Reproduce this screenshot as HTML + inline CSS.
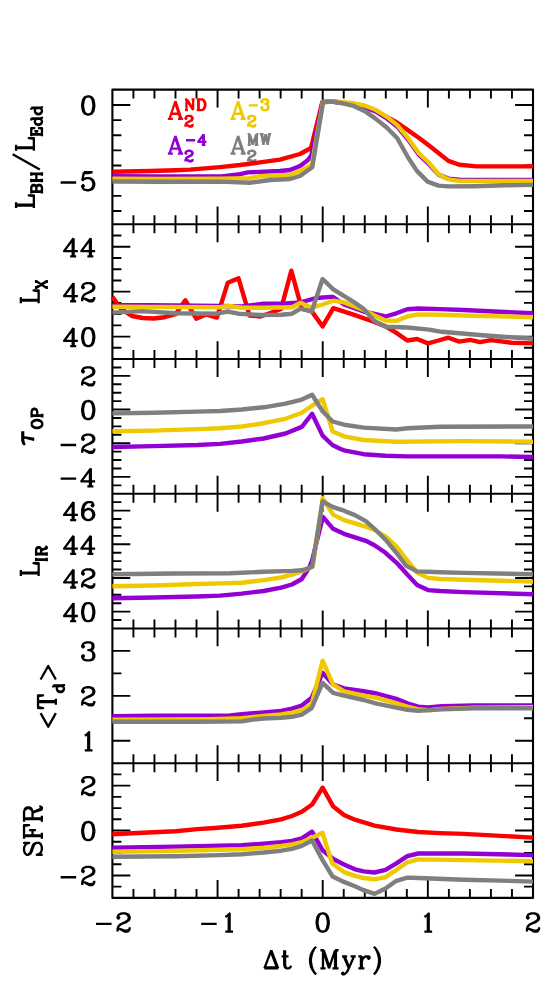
<!DOCTYPE html>
<html><head><meta charset="utf-8"><title>Light curves</title>
<style>
html,body{margin:0;padding:0;background:#fff;}
body{width:550px;height:1008px;overflow:hidden;font-family:"Liberation Serif",serif;}
svg{display:block;}
.ax{stroke:#000;stroke-width:2.1;fill:none;stroke-linecap:butt;stroke-linejoin:round;}
.tk{stroke:#000;stroke-width:1.9;fill:none;}
.cv{fill:none;stroke-width:4.4;stroke-linejoin:round;stroke-linecap:butt;}
</style></head><body>
<svg width="550" height="1008" viewBox="0 0 550 1008">
<title>Time evolution around the burst: six stacked panels versus Δt (Myr)</title>
<desc>Panels from top to bottom: L_BH/L_Edd, L_X, τ_OP, L_IR, &lt;T_d&gt;, SFR. X axis Δt (Myr) from -2 to 2. Legend: A2 ND (red), A2 -3 (gold), A2 -4 (purple), A2 MW (gray).</desc>
<rect x="0" y="0" width="550" height="1008" fill="#fff"/>
<path class="tk" d="M133.43 89.60L133.43 98.60M154.46 89.60L154.46 98.60M175.49 89.60L175.49 98.60M196.52 89.60L196.52 98.60M217.55 89.60L217.55 107.50M238.58 89.60L238.58 98.60M259.61 89.60L259.61 98.60M280.64 89.60L280.64 98.60M301.67 89.60L301.67 98.60M322.70 89.60L322.70 107.50M343.73 89.60L343.73 98.60M364.76 89.60L364.76 98.60M385.79 89.60L385.79 98.60M406.82 89.60L406.82 98.60M427.85 89.60L427.85 107.50M448.88 89.60L448.88 98.60M469.91 89.60L469.91 98.60M490.94 89.60L490.94 98.60M511.97 89.60L511.97 98.60M133.43 215.32L133.43 233.32M154.46 215.32L154.46 233.32M175.49 215.32L175.49 233.32M196.52 215.32L196.52 233.32M217.55 206.42L217.55 242.22M238.58 215.32L238.58 233.32M259.61 215.32L259.61 233.32M280.64 215.32L280.64 233.32M301.67 215.32L301.67 233.32M322.70 206.42L322.70 242.22M343.73 215.32L343.73 233.32M364.76 215.32L364.76 233.32M385.79 215.32L385.79 233.32M406.82 215.32L406.82 233.32M427.85 206.42L427.85 242.22M448.88 215.32L448.88 233.32M469.91 215.32L469.91 233.32M490.94 215.32L490.94 233.32M511.97 215.32L511.97 233.32M133.43 350.03L133.43 368.03M154.46 350.03L154.46 368.03M175.49 350.03L175.49 368.03M196.52 350.03L196.52 368.03M217.55 341.13L217.55 376.93M238.58 350.03L238.58 368.03M259.61 350.03L259.61 368.03M280.64 350.03L280.64 368.03M301.67 350.03L301.67 368.03M322.70 341.13L322.70 376.93M343.73 350.03L343.73 368.03M364.76 350.03L364.76 368.03M385.79 350.03L385.79 368.03M406.82 350.03L406.82 368.03M427.85 341.13L427.85 376.93M448.88 350.03L448.88 368.03M469.91 350.03L469.91 368.03M490.94 350.03L490.94 368.03M511.97 350.03L511.97 368.03M133.43 484.75L133.43 502.75M154.46 484.75L154.46 502.75M175.49 484.75L175.49 502.75M196.52 484.75L196.52 502.75M217.55 475.85L217.55 511.65M238.58 484.75L238.58 502.75M259.61 484.75L259.61 502.75M280.64 484.75L280.64 502.75M301.67 484.75L301.67 502.75M322.70 475.85L322.70 511.65M343.73 484.75L343.73 502.75M364.76 484.75L364.76 502.75M385.79 484.75L385.79 502.75M406.82 484.75L406.82 502.75M427.85 475.85L427.85 511.65M448.88 484.75L448.88 502.75M469.91 484.75L469.91 502.75M490.94 484.75L490.94 502.75M511.97 484.75L511.97 502.75M133.43 619.47L133.43 637.47M154.46 619.47L154.46 637.47M175.49 619.47L175.49 637.47M196.52 619.47L196.52 637.47M217.55 610.57L217.55 646.37M238.58 619.47L238.58 637.47M259.61 619.47L259.61 637.47M280.64 619.47L280.64 637.47M301.67 619.47L301.67 637.47M322.70 610.57L322.70 646.37M343.73 619.47L343.73 637.47M364.76 619.47L364.76 637.47M385.79 619.47L385.79 637.47M406.82 619.47L406.82 637.47M427.85 610.57L427.85 646.37M448.88 619.47L448.88 637.47M469.91 619.47L469.91 637.47M490.94 619.47L490.94 637.47M511.97 619.47L511.97 637.47M133.43 754.18L133.43 772.18M154.46 754.18L154.46 772.18M175.49 754.18L175.49 772.18M196.52 754.18L196.52 772.18M217.55 745.28L217.55 781.08M238.58 754.18L238.58 772.18M259.61 754.18L259.61 772.18M280.64 754.18L280.64 772.18M301.67 754.18L301.67 772.18M322.70 745.28L322.70 781.08M343.73 754.18L343.73 772.18M364.76 754.18L364.76 772.18M385.79 754.18L385.79 772.18M406.82 754.18L406.82 772.18M427.85 745.28L427.85 781.08M448.88 754.18L448.88 772.18M469.91 754.18L469.91 772.18M490.94 754.18L490.94 772.18M511.97 754.18L511.97 772.18M133.43 888.90L133.43 897.90M154.46 888.90L154.46 897.90M175.49 888.90L175.49 897.90M196.52 888.90L196.52 897.90M217.55 880.00L217.55 897.90M238.58 888.90L238.58 897.90M259.61 888.90L259.61 897.90M280.64 888.90L280.64 897.90M301.67 888.90L301.67 897.90M322.70 880.00L322.70 897.90M343.73 888.90L343.73 897.90M364.76 888.90L364.76 897.90M385.79 888.90L385.79 897.90M406.82 888.90L406.82 897.90M427.85 880.00L427.85 897.90M448.88 888.90L448.88 897.90M469.91 888.90L469.91 897.90M490.94 888.90L490.94 897.90M511.97 888.90L511.97 897.90M112.40 211.00L121.40 211.00M533.00 211.00L524.00 211.00M112.40 195.85L121.40 195.85M533.00 195.85L524.00 195.85M112.40 180.70L130.30 180.70M533.00 180.70L515.10 180.70M112.40 165.55L121.40 165.55M533.00 165.55L524.00 165.55M112.40 150.40L121.40 150.40M533.00 150.40L524.00 150.40M112.40 135.25L121.40 135.25M533.00 135.25L524.00 135.25M112.40 120.10L121.40 120.10M533.00 120.10L524.00 120.10M112.40 104.95L130.30 104.95M533.00 104.95L515.10 104.95M112.40 347.81L121.40 347.81M533.00 347.81L524.00 347.81M112.40 336.58L130.30 336.58M533.00 336.58L515.10 336.58M112.40 325.35L121.40 325.35M533.00 325.35L524.00 325.35M112.40 314.13L121.40 314.13M533.00 314.13L524.00 314.13M112.40 302.90L121.40 302.90M533.00 302.90L524.00 302.90M112.40 291.67L130.30 291.67M533.00 291.67L515.10 291.67M112.40 280.45L121.40 280.45M533.00 280.45L524.00 280.45M112.40 269.22L121.40 269.22M533.00 269.22L524.00 269.22M112.40 258.00L121.40 258.00M533.00 258.00L524.00 258.00M112.40 246.77L130.30 246.77M533.00 246.77L515.10 246.77M112.40 235.54L121.40 235.54M533.00 235.54L524.00 235.54M112.40 485.33L121.40 485.33M533.00 485.33L524.00 485.33M112.40 476.91L130.30 476.91M533.00 476.91L515.10 476.91M112.40 468.49L121.40 468.49M533.00 468.49L524.00 468.49M112.40 460.07L121.40 460.07M533.00 460.07L524.00 460.07M112.40 451.65L121.40 451.65M533.00 451.65L524.00 451.65M112.40 443.23L130.30 443.23M533.00 443.23L515.10 443.23M112.40 434.81L121.40 434.81M533.00 434.81L524.00 434.81M112.40 426.39L121.40 426.39M533.00 426.39L524.00 426.39M112.40 417.97L121.40 417.97M533.00 417.97L524.00 417.97M112.40 409.55L130.30 409.55M533.00 409.55L515.10 409.55M112.40 401.13L121.40 401.13M533.00 401.13L524.00 401.13M112.40 392.71L121.40 392.71M533.00 392.71L524.00 392.71M112.40 384.29L121.40 384.29M533.00 384.29L524.00 384.29M112.40 375.87L130.30 375.87M533.00 375.87L515.10 375.87M112.40 367.45L121.40 367.45M533.00 367.45L524.00 367.45M112.40 620.05L121.40 620.05M533.00 620.05L524.00 620.05M112.40 611.63L130.30 611.63M533.00 611.63L515.10 611.63M112.40 603.21L121.40 603.21M533.00 603.21L524.00 603.21M112.40 594.79L121.40 594.79M533.00 594.79L524.00 594.79M112.40 586.37L121.40 586.37M533.00 586.37L524.00 586.37M112.40 577.95L130.30 577.95M533.00 577.95L515.10 577.95M112.40 569.53L121.40 569.53M533.00 569.53L524.00 569.53M112.40 561.11L121.40 561.11M533.00 561.11L524.00 561.11M112.40 552.69L121.40 552.69M533.00 552.69L524.00 552.69M112.40 544.27L130.30 544.27M533.00 544.27L515.10 544.27M112.40 535.85L121.40 535.85M533.00 535.85L524.00 535.85M112.40 527.43L121.40 527.43M533.00 527.43L524.00 527.43M112.40 519.01L121.40 519.01M533.00 519.01L524.00 519.01M112.40 510.59L130.30 510.59M533.00 510.59L515.10 510.59M112.40 502.17L121.40 502.17M533.00 502.17L524.00 502.17M112.40 740.73L130.30 740.73M533.00 740.73L515.10 740.73M112.40 718.28L121.40 718.28M533.00 718.28L524.00 718.28M112.40 695.83L130.30 695.83M533.00 695.83L515.10 695.83M112.40 673.37L121.40 673.37M533.00 673.37L524.00 673.37M112.40 650.92L130.30 650.92M533.00 650.92L515.10 650.92M112.40 886.67L121.40 886.67M533.00 886.67L524.00 886.67M112.40 875.45L130.30 875.45M533.00 875.45L515.10 875.45M112.40 864.22L121.40 864.22M533.00 864.22L524.00 864.22M112.40 852.99L121.40 852.99M533.00 852.99L524.00 852.99M112.40 841.77L121.40 841.77M533.00 841.77L524.00 841.77M112.40 830.54L130.30 830.54M533.00 830.54L515.10 830.54M112.40 819.32L121.40 819.32M533.00 819.32L524.00 819.32M112.40 808.09L121.40 808.09M533.00 808.09L524.00 808.09M112.40 796.86L121.40 796.86M533.00 796.86L524.00 796.86M112.40 785.64L130.30 785.64M533.00 785.64L515.10 785.64M112.40 774.41L121.40 774.41M533.00 774.41L524.00 774.41"/>
<rect class="ax" x="112.40" y="89.60" width="420.60" height="808.30"/>
<path class="ax" d="M112.40 224.32H533.00M112.40 359.03H533.00M112.40 493.75H533.00M112.40 628.47H533.00M112.40 763.18H533.00"/>
<path d="M175.45 101.00L169.50 118.85M175.45 101.00L181.40 118.85M175.45 103.55L180.55 118.85M171.20 113.75L178.85 113.75M167.80 118.85L172.90 118.85M178.00 118.85L183.10 118.85" fill="none" stroke="#fa0000" stroke-width="2.30" stroke-linecap="butt" stroke-linejoin="round"/>
<path d="M186.50 99.34L186.50 110.05M187.01 99.34L193.13 109.03M187.01 100.36L193.13 110.05M193.13 99.34L193.13 110.05M184.97 99.34L187.01 99.34M191.60 99.34L194.66 99.34M184.97 110.05L188.03 110.05M198.23 99.34L198.23 110.05M198.74 99.34L198.74 110.05M196.70 99.34L201.80 99.34L203.33 99.85L204.35 100.87L204.86 101.89L205.37 103.42L205.37 105.97L204.86 107.50L204.35 108.52L203.33 109.54L201.80 110.05L196.70 110.05M201.80 99.34L202.82 99.85L203.84 100.87L204.35 101.89L204.86 103.42L204.86 105.97L204.35 107.50L203.84 108.52L202.82 109.54L201.80 110.05" fill="none" stroke="#fa0000" stroke-width="2.30" stroke-linecap="butt" stroke-linejoin="round"/>
<path d="M185.99 117.98L186.50 118.49L185.99 119.00L185.48 118.49L185.48 117.98L185.99 116.96L186.50 116.45L188.03 115.94L190.07 115.94L191.60 116.45L192.11 116.96L192.62 117.98L192.62 119.00L192.11 120.02L190.58 121.04L188.03 122.06L187.01 122.57L185.99 123.59L185.48 125.12L185.48 126.65M190.07 115.94L191.09 116.45L191.60 116.96L192.11 117.98L192.11 119.00L191.60 120.02L190.07 121.04L188.03 122.06M185.48 125.63L185.99 125.12L187.01 125.12L189.56 126.14L191.09 126.14L192.11 125.63L192.62 125.12M187.01 125.12L189.56 126.65L191.60 126.65L192.11 126.14L192.62 125.12L192.62 124.10" fill="none" stroke="#fa0000" stroke-width="2.30" stroke-linecap="butt" stroke-linejoin="round"/>
<path d="M238.15 101.00L232.20 118.85M238.15 101.00L244.10 118.85M238.15 103.55L243.25 118.85M233.90 113.75L241.55 113.75M230.50 118.85L235.60 118.85M240.70 118.85L245.80 118.85" fill="none" stroke="#eec900" stroke-width="2.30" stroke-linecap="butt" stroke-linejoin="round"/>
<path d="M248.69 105.46L257.87 105.46M261.95 101.38L262.46 101.89L261.95 102.40L261.44 101.89L261.44 101.38L261.95 100.36L262.46 99.85L263.99 99.34L266.03 99.34L267.56 99.85L268.07 100.87L268.07 102.40L267.56 103.42L266.03 103.93L264.50 103.93M266.03 99.34L267.05 99.85L267.56 100.87L267.56 102.40L267.05 103.42L266.03 103.93M266.03 103.93L267.05 104.44L268.07 105.46L268.58 106.48L268.58 108.01L268.07 109.03L267.56 109.54L266.03 110.05L263.99 110.05L262.46 109.54L261.95 109.03L261.44 108.01L261.44 107.50L261.95 106.99L262.46 107.50L261.95 108.01M267.56 104.95L268.07 106.48L268.07 108.01L267.56 109.03L267.05 109.54L266.03 110.05" fill="none" stroke="#eec900" stroke-width="2.30" stroke-linecap="butt" stroke-linejoin="round"/>
<path d="M248.69 117.98L249.20 118.49L248.69 119.00L248.18 118.49L248.18 117.98L248.69 116.96L249.20 116.45L250.73 115.94L252.77 115.94L254.30 116.45L254.81 116.96L255.32 117.98L255.32 119.00L254.81 120.02L253.28 121.04L250.73 122.06L249.71 122.57L248.69 123.59L248.18 125.12L248.18 126.65M252.77 115.94L253.79 116.45L254.30 116.96L254.81 117.98L254.81 119.00L254.30 120.02L252.77 121.04L250.73 122.06M248.18 125.63L248.69 125.12L249.71 125.12L252.26 126.14L253.79 126.14L254.81 125.63L255.32 125.12M249.71 125.12L252.26 126.65L254.30 126.65L254.81 126.14L255.32 125.12L255.32 124.10" fill="none" stroke="#eec900" stroke-width="2.30" stroke-linecap="butt" stroke-linejoin="round"/>
<path d="M175.45 135.80L169.50 153.65M175.45 135.80L181.40 153.65M175.45 138.35L180.55 153.65M171.20 148.55L178.85 148.55M167.80 153.65L172.90 153.65M178.00 153.65L183.10 153.65" fill="none" stroke="#9400d3" stroke-width="2.30" stroke-linecap="butt" stroke-linejoin="round"/>
<path d="M185.99 140.26L195.17 140.26M203.33 135.16L203.33 144.85M203.84 134.14L203.84 144.85M203.84 134.14L198.23 141.79L206.39 141.79M201.80 144.85L205.37 144.85" fill="none" stroke="#9400d3" stroke-width="2.30" stroke-linecap="butt" stroke-linejoin="round"/>
<path d="M185.99 152.78L186.50 153.29L185.99 153.80L185.48 153.29L185.48 152.78L185.99 151.76L186.50 151.25L188.03 150.74L190.07 150.74L191.60 151.25L192.11 151.76L192.62 152.78L192.62 153.80L192.11 154.82L190.58 155.84L188.03 156.86L187.01 157.37L185.99 158.39L185.48 159.92L185.48 161.45M190.07 150.74L191.09 151.25L191.60 151.76L192.11 152.78L192.11 153.80L191.60 154.82L190.07 155.84L188.03 156.86M185.48 160.43L185.99 159.92L187.01 159.92L189.56 160.94L191.09 160.94L192.11 160.43L192.62 159.92M187.01 159.92L189.56 161.45L191.60 161.45L192.11 160.94L192.62 159.92L192.62 158.90" fill="none" stroke="#9400d3" stroke-width="2.30" stroke-linecap="butt" stroke-linejoin="round"/>
<path d="M238.15 135.80L232.20 153.65M238.15 135.80L244.10 153.65M238.15 138.35L243.25 153.65M233.90 148.55L241.55 148.55M230.50 153.65L235.60 153.65M240.70 153.65L245.80 153.65" fill="none" stroke="#7f7f7f" stroke-width="2.30" stroke-linecap="butt" stroke-linejoin="round"/>
<path d="M249.20 134.14L249.20 144.85M249.71 134.14L252.77 143.32M249.20 134.14L252.77 144.85M256.34 134.14L252.77 144.85M256.34 134.14L256.34 144.85M256.85 134.14L256.85 144.85M247.67 134.14L249.71 134.14M256.34 134.14L258.38 134.14M247.67 144.85L250.73 144.85M254.81 144.85L258.38 144.85M261.44 134.14L263.48 144.85M261.95 134.14L263.48 142.30M265.52 134.14L263.48 144.85M265.52 134.14L267.56 144.85M266.03 134.14L267.56 142.30M269.60 134.14L267.56 144.85M259.91 134.14L263.48 134.14M268.07 134.14L271.13 134.14" fill="none" stroke="#7f7f7f" stroke-width="2.30" stroke-linecap="butt" stroke-linejoin="round"/>
<path d="M248.69 152.78L249.20 153.29L248.69 153.80L248.18 153.29L248.18 152.78L248.69 151.76L249.20 151.25L250.73 150.74L252.77 150.74L254.30 151.25L254.81 151.76L255.32 152.78L255.32 153.80L254.81 154.82L253.28 155.84L250.73 156.86L249.71 157.37L248.69 158.39L248.18 159.92L248.18 161.45M252.77 150.74L253.79 151.25L254.30 151.76L254.81 152.78L254.81 153.80L254.30 154.82L252.77 155.84L250.73 156.86M248.18 160.43L248.69 159.92L249.71 159.92L252.26 160.94L253.79 160.94L254.81 160.43L255.32 159.92M249.71 159.92L252.26 161.45L254.30 161.45L254.81 160.94L255.32 159.92L255.32 158.90" fill="none" stroke="#7f7f7f" stroke-width="2.30" stroke-linecap="butt" stroke-linejoin="round"/>
<g>
<polyline class="cv" stroke="#fa0000" points="112.4,171.8 150.0,171.0 175.5,170.3 190.0,169.6 208.0,168.1 220.0,167.1 240.0,165.0 260.0,162.4 280.0,159.6 300.0,154.0 311.0,148.0 322.3,102.0 331.8,101.5 342.7,102.8 353.6,104.2 364.5,106.8 375.5,110.8 386.4,116.6 397.3,122.7 408.2,130.4 419.1,138.0 430.0,146.3 437.5,152.2 448.4,160.9 459.3,164.8 476.7,166.4 533.0,166.4"/>
<polyline class="cv" stroke="#9400d3" points="112.4,176.2 160.0,176.4 222.0,176.5 240.0,174.2 248.0,172.4 280.0,171.0 290.0,170.0 300.0,166.0 308.0,160.0 311.5,155.0 322.7,102.0 331.8,101.5 342.7,102.8 353.6,104.4 364.5,107.2 375.5,111.4 386.4,118.0 397.3,126.7 408.2,139.8 419.1,155.0 428.7,164.0 438.5,174.6 448.4,178.6 459.3,179.8 533.0,180.0"/>
<polyline class="cv" stroke="#eec900" points="112.4,178.6 160.0,178.9 220.0,178.6 250.0,178.2 260.0,176.2 290.0,175.0 300.0,171.0 309.0,166.5 312.0,164.5 322.9,102.0 331.8,101.3 342.7,102.2 353.6,103.3 364.5,105.5 375.5,109.8 386.4,116.4 397.3,125.1 408.2,138.2 419.1,153.5 428.7,162.5 438.5,174.2 448.4,179.4 459.3,180.9 533.0,181.0"/>
<polyline class="cv" stroke="#7f7f7f" points="112.4,181.5 160.0,181.7 220.0,181.6 250.0,182.7 270.0,180.0 290.0,179.0 300.0,176.0 312.2,167.3 323.1,102.2 331.8,101.5 342.7,103.3 353.6,105.9 364.5,110.9 375.5,118.6 386.4,127.3 397.3,138.2 408.2,157.8 416.9,170.9 427.6,181.6 438.5,185.6 448.4,186.4 474.5,186.2 505.0,185.3 533.0,184.9"/>
</g>
<g>
<polyline class="cv" stroke="#fa0000" points="112.4,296.9 120.9,308.7 131.8,316.0 142.7,318.0 153.6,318.5 164.5,317.2 175.5,314.2 185.3,300.2 196.2,318.7 206.0,314.4 216.9,317.6 227.8,282.7 238.5,278.4 249.5,315.5 260.4,316.5 272.4,312.2 281.1,308.9 291.3,270.7 301.8,308.9 311.6,311.1 322.6,326.4 333.3,308.2 352.7,314.4 374.5,322.0 385.5,326.4 396.4,332.9 407.3,340.5 417.1,339.0 428.0,343.4 438.5,340.5 448.4,337.7 459.3,341.6 470.2,339.9 480.0,342.1 490.9,340.1 511.6,342.7 533.0,343.4"/>
<polyline class="cv" stroke="#9400d3" points="112.4,305.2 150.0,305.2 220.0,306.0 241.8,306.5 263.6,303.7 285.5,303.5 300.7,302.4 316.0,298.0 331.3,296.9 333.1,297.0 344.0,304.5 363.6,311.5 385.5,316.5 396.4,313.3 407.3,309.3 418.2,308.5 440.0,309.1 463.6,310.0 533.0,313.3"/>
<polyline class="cv" stroke="#eec900" points="112.4,306.8 150.0,306.9 220.0,307.2 227.6,305.8 241.8,307.8 263.6,307.8 292.0,307.2 300.7,302.8 311.6,307.8 322.6,304.5 333.3,300.7 344.0,302.4 363.6,310.0 374.5,315.5 385.5,320.5 396.4,320.9 407.3,316.5 418.2,314.4 440.0,314.8 463.6,315.5 533.0,317.2"/>
<polyline class="cv" stroke="#7f7f7f" points="112.4,312.6 142.7,311.1 175.5,313.3 216.9,313.7 227.6,311.5 238.5,313.7 249.5,314.4 260.4,315.0 281.1,314.8 292.0,313.7 300.7,308.5 311.6,311.7 322.6,279.0 333.3,289.3 352.7,301.3 363.6,308.9 374.5,320.9 385.5,326.8 407.3,327.5 429.1,329.6 441.8,331.8 485.5,335.5 533.0,338.8"/>
</g>
<g>
<polyline class="cv" stroke="#9400d3" points="112.4,447.0 153.6,446.1 197.3,445.0 220.0,443.9 241.8,441.5 263.6,438.5 285.5,433.5 301.8,426.9 312.1,413.8 322.6,435.6 332.4,445.0 340.0,448.7 344.0,450.3 363.6,454.2 385.5,455.7 407.3,456.4 500.0,456.4 533.0,457.0"/>
<polyline class="cv" stroke="#eec900" points="112.4,431.3 153.6,430.6 197.3,429.1 220.0,428.2 241.8,426.5 263.6,423.2 285.5,418.8 301.8,412.7 312.1,405.7 322.6,399.2 326.9,412.7 332.6,431.5 340.0,434.5 344.0,436.3 363.6,440.0 396.4,441.7 463.6,441.1 533.0,441.7"/>
<polyline class="cv" stroke="#7f7f7f" points="112.4,413.4 153.6,412.7 197.3,411.6 220.0,411.0 241.8,409.5 263.6,407.3 285.5,403.6 301.8,399.6 312.1,394.8 322.6,411.2 332.6,421.5 344.0,424.7 363.6,427.6 396.4,429.5 407.3,428.2 440.0,426.7 533.0,426.5"/>
</g>
<g>
<polyline class="cv" stroke="#9400d3" points="112.4,598.2 153.6,597.5 197.3,596.5 220.0,595.6 241.8,593.6 263.6,591.0 281.1,587.7 292.0,584.5 301.8,579.0 309.5,567.0 312.1,560.5 322.9,516.8 333.1,528.8 344.0,533.8 365.8,540.8 374.5,545.2 385.5,552.8 396.4,562.6 407.3,574.6 417.1,584.9 428.0,590.1 440.0,591.0 463.6,592.1 533.0,594.3"/>
<polyline class="cv" stroke="#eec900" points="112.4,586.2 153.6,585.5 197.3,584.0 220.0,583.4 241.8,582.7 263.6,580.1 281.1,577.5 292.0,574.6 301.8,571.4 312.8,566.3 322.7,498.3 333.1,514.6 344.0,520.1 365.8,526.6 374.5,529.9 385.5,536.5 396.4,546.3 407.3,560.5 417.1,572.5 428.0,577.9 440.0,579.0 463.6,579.7 533.0,581.6"/>
<polyline class="cv" stroke="#7f7f7f" points="112.4,574.2 175.5,573.5 230.0,573.3 263.6,571.8 292.0,570.9 301.8,570.3 312.1,567.0 322.6,501.3 333.1,507.2 344.0,510.7 354.9,515.1 365.8,521.2 374.5,528.8 385.5,539.7 396.4,552.8 406.2,565.9 417.1,571.4 440.0,572.3 463.6,572.9 533.0,574.2"/>
</g>
<g>
<polyline class="cv" stroke="#9400d3" points="112.4,716.2 153.6,715.8 230.0,715.4 241.8,714.2 263.6,712.4 281.1,710.9 292.0,708.7 301.8,705.5 311.6,697.8 322.6,672.7 333.1,684.5 344.0,688.4 363.6,691.3 376.7,693.5 396.4,698.9 407.3,703.3 418.2,706.6 427.6,707.4 441.8,706.2 474.5,705.4 533.0,705.4"/>
<polyline class="cv" stroke="#eec900" points="112.4,719.6 197.3,719.4 220.0,719.0 241.8,718.2 263.6,716.0 281.1,714.5 292.0,712.6 301.8,710.2 311.6,704.8 322.6,660.7 333.1,684.7 344.0,691.3 363.6,695.6 376.7,697.8 396.4,703.3 407.3,706.6 418.2,709.4 429.1,710.3 441.8,708.9 474.5,707.6 533.0,707.2"/>
<polyline class="cv" stroke="#7f7f7f" points="112.4,721.8 197.3,721.8 241.8,721.4 252.7,719.6 263.6,718.5 281.1,717.9 292.0,716.8 301.8,714.6 311.6,708.1 322.6,682.8 333.1,692.8 344.0,695.6 363.6,700.0 376.7,703.7 396.4,707.6 407.3,709.8 418.2,710.9 441.8,709.4 474.5,708.3 533.0,708.3"/>
</g>
<g>
<polyline class="cv" stroke="#fa0000" points="112.4,834.3 142.7,832.8 175.5,831.3 197.3,829.1 214.7,828.0 230.0,826.8 241.8,825.8 263.6,822.6 281.1,819.3 292.0,816.0 301.8,811.7 312.1,804.5 322.6,787.7 333.3,806.6 344.0,814.9 354.9,819.7 374.5,825.6 396.4,829.5 418.2,832.0 440.0,833.1 463.6,833.9 533.0,837.6"/>
<polyline class="cv" stroke="#9400d3" points="112.4,847.7 175.5,846.6 220.0,845.7 241.8,845.3 263.6,843.7 281.1,842.2 292.0,840.9 301.8,838.3 312.1,831.7 322.6,850.3 333.3,859.0 344.0,864.5 354.9,869.3 363.6,871.4 374.5,872.5 385.5,869.9 396.4,863.4 407.3,856.2 418.2,853.5 463.6,853.5 533.0,855.1"/>
<polyline class="cv" stroke="#eec900" points="112.4,851.8 175.5,850.9 220.0,849.8 241.8,849.2 263.6,847.7 281.1,845.9 292.0,844.4 301.8,842.2 312.1,837.8 322.6,832.8 326.9,847.0 332.2,863.4 344.0,872.1 354.9,875.8 363.6,878.0 374.5,879.3 385.5,877.1 396.4,869.9 407.3,862.3 418.2,859.4 463.6,860.1 533.0,861.2"/>
<polyline class="cv" stroke="#7f7f7f" points="112.4,856.8 175.5,856.2 220.0,855.1 241.8,854.2 263.6,852.5 281.1,850.7 292.0,848.8 301.8,845.9 312.1,840.5 322.6,860.1 332.6,876.5 344.0,881.9 354.9,886.3 363.6,890.2 374.5,893.9 385.5,888.5 396.4,880.8 407.3,877.6 418.2,878.0 463.6,879.7 500.0,880.6 533.0,881.6"/>
</g>
<path d="M87.37 96.40L84.78 97.26L83.06 99.85L82.20 104.16L82.20 106.74L83.06 111.05L84.78 113.64L87.37 114.50L89.09 114.50L91.68 113.64L93.40 111.05L94.26 106.74L94.26 104.16L93.40 99.85L91.68 97.26L89.09 96.40L87.37 96.40M87.37 96.40L85.64 97.26L84.78 98.12L83.92 99.85L83.06 104.16L83.06 106.74L83.92 111.05L84.78 112.78L85.64 113.64L87.37 114.50M89.09 114.50L90.82 113.64L91.68 112.78L92.54 111.05L93.40 106.74L93.40 104.16L92.54 99.85L91.68 98.12L90.82 97.26L89.09 96.40" fill="none" stroke="#000" stroke-width="2.30" stroke-linecap="butt" stroke-linejoin="round"/>
<path d="M60.65 182.49L76.16 182.49M83.92 172.15L82.20 180.77M82.20 180.77L83.92 179.04L86.51 178.18L89.09 178.18L91.68 179.04L93.40 180.77L94.26 183.35L94.26 185.08L93.40 187.66L91.68 189.39L89.09 190.25L86.51 190.25L83.92 189.39L83.06 188.53L82.20 186.80L82.20 185.94L83.06 185.08L83.92 185.94L83.06 186.80M89.09 178.18L90.82 179.04L92.54 180.77L93.40 183.35L93.40 185.08L92.54 187.66L90.82 189.39L89.09 190.25M83.92 172.15L92.54 172.15M83.92 173.01L88.23 173.01L92.54 172.15" fill="none" stroke="#000" stroke-width="2.30" stroke-linecap="butt" stroke-linejoin="round"/>
<path d="M72.71 239.94L72.71 256.32M73.58 238.22L73.58 256.32M73.58 238.22L64.09 251.15L77.89 251.15M70.13 256.32L76.16 256.32M89.95 239.94L89.95 256.32M90.82 238.22L90.82 256.32M90.82 238.22L81.33 251.15L95.13 251.15M87.37 256.32L93.40 256.32" fill="none" stroke="#000" stroke-width="2.30" stroke-linecap="butt" stroke-linejoin="round"/>
<path d="M72.71 284.85L72.71 301.23M73.58 283.12L73.58 301.23M73.58 283.12L64.09 296.05L77.89 296.05M70.13 301.23L76.16 301.23M83.06 286.57L83.92 287.43L83.06 288.30L82.20 287.43L82.20 286.57L83.06 284.85L83.92 283.99L86.51 283.12L89.95 283.12L92.54 283.99L93.40 284.85L94.26 286.57L94.26 288.30L93.40 290.02L90.82 291.74L86.51 293.47L84.78 294.33L83.06 296.05L82.20 298.64L82.20 301.23M89.95 283.12L91.68 283.99L92.54 284.85L93.40 286.57L93.40 288.30L92.54 290.02L89.95 291.74L86.51 293.47M82.20 299.50L83.06 298.64L84.78 298.64L89.09 300.36L91.68 300.36L93.40 299.50L94.26 298.64M84.78 298.64L89.09 301.23L92.54 301.23L93.40 300.36L94.26 298.64L94.26 296.92" fill="none" stroke="#000" stroke-width="2.30" stroke-linecap="butt" stroke-linejoin="round"/>
<path d="M72.71 329.75L72.71 346.13M73.58 328.03L73.58 346.13M73.58 328.03L64.09 340.96L77.89 340.96M70.13 346.13L76.16 346.13M87.37 328.03L84.78 328.89L83.06 331.48L82.20 335.79L82.20 338.37L83.06 342.68L84.78 345.27L87.37 346.13L89.09 346.13L91.68 345.27L93.40 342.68L94.26 338.37L94.26 335.79L93.40 331.48L91.68 328.89L89.09 328.03L87.37 328.03M87.37 328.03L85.64 328.89L84.78 329.75L83.92 331.48L83.06 335.79L83.06 338.37L83.92 342.68L84.78 344.41L85.64 345.27L87.37 346.13M89.09 346.13L90.82 345.27L91.68 344.41L92.54 342.68L93.40 338.37L93.40 335.79L92.54 331.48L91.68 329.75L90.82 328.89L89.09 328.03" fill="none" stroke="#000" stroke-width="2.30" stroke-linecap="butt" stroke-linejoin="round"/>
<path d="M83.06 370.77L83.92 371.63L83.06 372.49L82.20 371.63L82.20 370.77L83.06 369.05L83.92 368.18L86.51 367.32L89.95 367.32L92.54 368.18L93.40 369.05L94.26 370.77L94.26 372.49L93.40 374.22L90.82 375.94L86.51 377.67L84.78 378.53L83.06 380.25L82.20 382.84L82.20 385.42M89.95 367.32L91.68 368.18L92.54 369.05L93.40 370.77L93.40 372.49L92.54 374.22L89.95 375.94L86.51 377.67M82.20 383.70L83.06 382.84L84.78 382.84L89.09 384.56L91.68 384.56L93.40 383.70L94.26 382.84M84.78 382.84L89.09 385.42L92.54 385.42L93.40 384.56L94.26 382.84L94.26 381.11" fill="none" stroke="#000" stroke-width="2.30" stroke-linecap="butt" stroke-linejoin="round"/>
<path d="M87.37 401.00L84.78 401.86L83.06 404.45L82.20 408.76L82.20 411.35L83.06 415.66L84.78 418.24L87.37 419.10L89.09 419.10L91.68 418.24L93.40 415.66L94.26 411.35L94.26 408.76L93.40 404.45L91.68 401.86L89.09 401.00L87.37 401.00M87.37 401.00L85.64 401.86L84.78 402.73L83.92 404.45L83.06 408.76L83.06 411.35L83.92 415.66L84.78 417.38L85.64 418.24L87.37 419.10M89.09 419.10L90.82 418.24L91.68 417.38L92.54 415.66L93.40 411.35L93.40 408.76L92.54 404.45L91.68 402.73L90.82 401.86L89.09 401.00" fill="none" stroke="#000" stroke-width="2.30" stroke-linecap="butt" stroke-linejoin="round"/>
<path d="M60.65 445.02L76.16 445.02M83.06 438.13L83.92 438.99L83.06 439.85L82.20 438.99L82.20 438.13L83.06 436.40L83.92 435.54L86.51 434.68L89.95 434.68L92.54 435.54L93.40 436.40L94.26 438.13L94.26 439.85L93.40 441.58L90.82 443.30L86.51 445.02L84.78 445.89L83.06 447.61L82.20 450.20L82.20 452.78M89.95 434.68L91.68 435.54L92.54 436.40L93.40 438.13L93.40 439.85L92.54 441.58L89.95 443.30L86.51 445.02M82.20 451.06L83.06 450.20L84.78 450.20L89.09 451.92L91.68 451.92L93.40 451.06L94.26 450.20M84.78 450.20L89.09 452.78L92.54 452.78L93.40 451.92L94.26 450.20L94.26 448.47" fill="none" stroke="#000" stroke-width="2.30" stroke-linecap="butt" stroke-linejoin="round"/>
<path d="M60.65 478.70L76.16 478.70M89.95 470.08L89.95 486.46M90.82 468.36L90.82 486.46M90.82 468.36L81.33 481.29L95.13 481.29M87.37 486.46L93.40 486.46" fill="none" stroke="#000" stroke-width="2.30" stroke-linecap="butt" stroke-linejoin="round"/>
<path d="M72.71 503.76L72.71 520.14M73.58 502.04L73.58 520.14M73.58 502.04L64.09 514.97L77.89 514.97M70.13 520.14L76.16 520.14M92.54 504.62L91.68 505.49L92.54 506.35L93.40 505.49L93.40 504.62L92.54 502.90L90.82 502.04L88.23 502.04L85.64 502.90L83.92 504.62L83.06 506.35L82.20 509.80L82.20 514.97L83.06 517.55L84.78 519.28L87.37 520.14L89.09 520.14L91.68 519.28L93.40 517.55L94.26 514.97L94.26 514.11L93.40 511.52L91.68 509.80L89.09 508.93L88.23 508.93L85.64 509.80L83.92 511.52L83.06 514.11M88.23 502.04L86.51 502.90L84.78 504.62L83.92 506.35L83.06 509.80L83.06 514.97L83.92 517.55L85.64 519.28L87.37 520.14M89.09 520.14L90.82 519.28L92.54 517.55L93.40 514.97L93.40 514.11L92.54 511.52L90.82 509.80L89.09 508.93" fill="none" stroke="#000" stroke-width="2.30" stroke-linecap="butt" stroke-linejoin="round"/>
<path d="M72.71 537.44L72.71 553.82M73.58 535.72L73.58 553.82M73.58 535.72L64.09 548.65L77.89 548.65M70.13 553.82L76.16 553.82M89.95 537.44L89.95 553.82M90.82 535.72L90.82 553.82M90.82 535.72L81.33 548.65L95.13 548.65M87.37 553.82L93.40 553.82" fill="none" stroke="#000" stroke-width="2.30" stroke-linecap="butt" stroke-linejoin="round"/>
<path d="M72.71 571.12L72.71 587.50M73.58 569.40L73.58 587.50M73.58 569.40L64.09 582.33L77.89 582.33M70.13 587.50L76.16 587.50M83.06 572.84L83.92 573.71L83.06 574.57L82.20 573.71L82.20 572.84L83.06 571.12L83.92 570.26L86.51 569.40L89.95 569.40L92.54 570.26L93.40 571.12L94.26 572.84L94.26 574.57L93.40 576.29L90.82 578.02L86.51 579.74L84.78 580.60L83.06 582.33L82.20 584.91L82.20 587.50M89.95 569.40L91.68 570.26L92.54 571.12L93.40 572.84L93.40 574.57L92.54 576.29L89.95 578.02L86.51 579.74M82.20 585.77L83.06 584.91L84.78 584.91L89.09 586.64L91.68 586.64L93.40 585.77L94.26 584.91M84.78 584.91L89.09 587.50L92.54 587.50L93.40 586.64L94.26 584.91L94.26 583.19" fill="none" stroke="#000" stroke-width="2.30" stroke-linecap="butt" stroke-linejoin="round"/>
<path d="M72.71 604.80L72.71 621.18M73.58 603.08L73.58 621.18M73.58 603.08L64.09 616.01L77.89 616.01M70.13 621.18L76.16 621.18M87.37 603.08L84.78 603.94L83.06 606.52L82.20 610.83L82.20 613.42L83.06 617.73L84.78 620.32L87.37 621.18L89.09 621.18L91.68 620.32L93.40 617.73L94.26 613.42L94.26 610.83L93.40 606.52L91.68 603.94L89.09 603.08L87.37 603.08M87.37 603.08L85.64 603.94L84.78 604.80L83.92 606.52L83.06 610.83L83.06 613.42L83.92 617.73L84.78 619.45L85.64 620.32L87.37 621.18M89.09 621.18L90.82 620.32L91.68 619.45L92.54 617.73L93.40 613.42L93.40 610.83L92.54 606.52L91.68 604.80L90.82 603.94L89.09 603.08" fill="none" stroke="#000" stroke-width="2.30" stroke-linecap="butt" stroke-linejoin="round"/>
<path d="M83.06 645.82L83.92 646.68L83.06 647.54L82.20 646.68L82.20 645.82L83.06 644.09L83.92 643.23L86.51 642.37L89.95 642.37L92.54 643.23L93.40 644.95L93.40 647.54L92.54 649.26L89.95 650.13L87.37 650.13M89.95 642.37L91.68 643.23L92.54 644.95L92.54 647.54L91.68 649.26L89.95 650.13M89.95 650.13L91.68 650.99L93.40 652.71L94.26 654.44L94.26 657.02L93.40 658.75L92.54 659.61L89.95 660.47L86.51 660.47L83.92 659.61L83.06 658.75L82.20 657.02L82.20 656.16L83.06 655.30L83.92 656.16L83.06 657.02M92.54 651.85L93.40 654.44L93.40 657.02L92.54 658.75L91.68 659.61L89.95 660.47" fill="none" stroke="#000" stroke-width="2.30" stroke-linecap="butt" stroke-linejoin="round"/>
<path d="M83.06 690.72L83.92 691.58L83.06 692.45L82.20 691.58L82.20 690.72L83.06 689.00L83.92 688.14L86.51 687.27L89.95 687.27L92.54 688.14L93.40 689.00L94.26 690.72L94.26 692.45L93.40 694.17L90.82 695.89L86.51 697.62L84.78 698.48L83.06 700.20L82.20 702.79L82.20 705.38M89.95 687.27L91.68 688.14L92.54 689.00L93.40 690.72L93.40 692.45L92.54 694.17L89.95 695.89L86.51 697.62M82.20 703.65L83.06 702.79L84.78 702.79L89.09 704.51L91.68 704.51L93.40 703.65L94.26 702.79M84.78 702.79L89.09 705.38L92.54 705.38L93.40 704.51L94.26 702.79L94.26 701.07" fill="none" stroke="#000" stroke-width="2.30" stroke-linecap="butt" stroke-linejoin="round"/>
<path d="M84.78 735.63L86.51 734.77L89.09 732.18L89.09 750.28M88.23 733.04L88.23 750.28M84.78 750.28L92.54 750.28" fill="none" stroke="#000" stroke-width="2.30" stroke-linecap="butt" stroke-linejoin="round"/>
<path d="M83.06 780.53L83.92 781.40L83.06 782.26L82.20 781.40L82.20 780.53L83.06 778.81L83.92 777.95L86.51 777.09L89.95 777.09L92.54 777.95L93.40 778.81L94.26 780.53L94.26 782.26L93.40 783.98L90.82 785.71L86.51 787.43L84.78 788.29L83.06 790.02L82.20 792.60L82.20 795.19M89.95 777.09L91.68 777.95L92.54 778.81L93.40 780.53L93.40 782.26L92.54 783.98L89.95 785.71L86.51 787.43M82.20 793.46L83.06 792.60L84.78 792.60L89.09 794.33L91.68 794.33L93.40 793.46L94.26 792.60M84.78 792.60L89.09 795.19L92.54 795.19L93.40 794.33L94.26 792.60L94.26 790.88" fill="none" stroke="#000" stroke-width="2.30" stroke-linecap="butt" stroke-linejoin="round"/>
<path d="M87.37 821.99L84.78 822.85L83.06 825.44L82.20 829.75L82.20 832.33L83.06 836.64L84.78 839.23L87.37 840.09L89.09 840.09L91.68 839.23L93.40 836.64L94.26 832.33L94.26 829.75L93.40 825.44L91.68 822.85L89.09 821.99L87.37 821.99M87.37 821.99L85.64 822.85L84.78 823.71L83.92 825.44L83.06 829.75L83.06 832.33L83.92 836.64L84.78 838.37L85.64 839.23L87.37 840.09M89.09 840.09L90.82 839.23L91.68 838.37L92.54 836.64L93.40 832.33L93.40 829.75L92.54 825.44L91.68 823.71L90.82 822.85L89.09 821.99" fill="none" stroke="#000" stroke-width="2.30" stroke-linecap="butt" stroke-linejoin="round"/>
<path d="M60.65 877.24L76.16 877.24M83.06 870.34L83.92 871.21L83.06 872.07L82.20 871.21L82.20 870.34L83.06 868.62L83.92 867.76L86.51 866.90L89.95 866.90L92.54 867.76L93.40 868.62L94.26 870.34L94.26 872.07L93.40 873.79L90.82 875.52L86.51 877.24L84.78 878.10L83.06 879.83L82.20 882.41L82.20 885.00M89.95 866.90L91.68 867.76L92.54 868.62L93.40 870.34L93.40 872.07L92.54 873.79L89.95 875.52L86.51 877.24M82.20 883.27L83.06 882.41L84.78 882.41L89.09 884.14L91.68 884.14L93.40 883.27L94.26 882.41M84.78 882.41L89.09 885.00L92.54 885.00L93.40 884.14L94.26 882.41L94.26 880.69" fill="none" stroke="#000" stroke-width="2.30" stroke-linecap="butt" stroke-linejoin="round"/>
<path d="M96.02 923.79L111.54 923.79M118.43 916.90L119.30 917.76L118.43 918.62L117.57 917.76L117.57 916.90L118.43 915.17L119.30 914.31L121.88 913.45L125.33 913.45L127.92 914.31L128.78 915.17L129.64 916.90L129.64 918.62L128.78 920.34L126.19 922.07L121.88 923.79L120.16 924.65L118.43 926.38L117.57 928.96L117.57 931.55M125.33 913.45L127.05 914.31L127.92 915.17L128.78 916.90L128.78 918.62L127.92 920.34L125.33 922.07L121.88 923.79M117.57 929.83L118.43 928.96L120.16 928.96L124.47 930.69L127.05 930.69L128.78 929.83L129.64 928.96M120.16 928.96L124.47 931.55L127.92 931.55L128.78 930.69L129.64 928.96L129.64 927.24" fill="none" stroke="#000" stroke-width="2.30" stroke-linecap="butt" stroke-linejoin="round"/>
<path d="M201.17 923.79L216.69 923.79M225.31 916.90L227.03 916.03L229.62 913.45L229.62 931.55M228.76 914.31L228.76 931.55M225.31 931.55L233.07 931.55" fill="none" stroke="#000" stroke-width="2.30" stroke-linecap="butt" stroke-linejoin="round"/>
<path d="M321.84 913.45L319.25 914.31L317.53 916.90L316.67 921.21L316.67 923.79L317.53 928.10L319.25 930.69L321.84 931.55L323.56 931.55L326.15 930.69L327.87 928.10L328.73 923.79L328.73 921.21L327.87 916.90L326.15 914.31L323.56 913.45L321.84 913.45M321.84 913.45L320.11 914.31L319.25 915.17L318.39 916.90L317.53 921.21L317.53 923.79L318.39 928.10L319.25 929.83L320.11 930.69L321.84 931.55M323.56 931.55L325.29 930.69L326.15 929.83L327.01 928.10L327.87 923.79L327.87 921.21L327.01 916.90L326.15 915.17L325.29 914.31L323.56 913.45" fill="none" stroke="#000" stroke-width="2.30" stroke-linecap="butt" stroke-linejoin="round"/>
<path d="M424.40 916.90L426.13 916.03L428.71 913.45L428.71 931.55M427.85 914.31L427.85 931.55M424.40 931.55L432.16 931.55" fill="none" stroke="#000" stroke-width="2.30" stroke-linecap="butt" stroke-linejoin="round"/>
<path d="M527.83 916.90L528.69 917.76L527.83 918.62L526.97 917.76L526.97 916.90L527.83 915.17L528.69 914.31L531.28 913.45L534.72 913.45L537.31 914.31L538.17 915.17L539.03 916.90L539.03 918.62L538.17 920.34L535.59 922.07L531.28 923.79L529.55 924.65L527.83 926.38L526.97 928.96L526.97 931.55M534.72 913.45L536.45 914.31L537.31 915.17L538.17 916.90L538.17 918.62L537.31 920.34L534.72 922.07L531.28 923.79M526.97 929.83L527.83 928.96L529.55 928.96L533.86 930.69L536.45 930.69L538.17 929.83L539.03 928.96M529.55 928.96L533.86 931.55L537.31 931.55L538.17 930.69L539.03 928.96L539.03 927.24" fill="none" stroke="#000" stroke-width="2.30" stroke-linecap="butt" stroke-linejoin="round"/>
<path d="M271.28 950.25L264.38 968.35M271.28 950.25L278.18 968.35M271.28 952.83L277.31 968.35M265.25 967.49L277.31 967.49M264.38 968.35L278.18 968.35M284.21 950.25L284.21 964.90L285.07 967.49L286.80 968.35L288.52 968.35L290.24 967.49L291.11 965.76M285.07 950.25L285.07 964.90L285.93 967.49L286.80 968.35M281.62 956.28L288.52 956.28M316.10 946.80L314.38 948.52L312.66 951.11L310.93 954.56L310.07 958.87L310.07 962.32L310.93 966.63L312.66 970.07L314.38 972.66L316.10 974.38M314.38 948.52L312.66 951.97L311.79 954.56L310.93 958.87L310.93 962.32L311.79 966.63L312.66 969.21L314.38 972.66M323.00 950.25L323.00 968.35M323.86 950.25L329.03 965.76M323.00 950.25L329.03 968.35M335.07 950.25L329.03 968.35M335.07 950.25L335.07 968.35M335.93 950.25L335.93 968.35M320.41 950.25L323.86 950.25M335.07 950.25L338.52 950.25M320.41 968.35L325.59 968.35M332.48 968.35L338.52 968.35M343.69 956.28L348.86 968.35M344.55 956.28L348.86 966.63M354.03 956.28L348.86 968.35L347.14 971.80L345.41 973.52L343.69 974.38L342.83 974.38L341.96 973.52L342.83 972.66L343.69 973.52M341.96 956.28L347.14 956.28M350.58 956.28L355.76 956.28M360.93 956.28L360.93 968.35M361.79 956.28L361.79 968.35M361.79 961.45L362.65 958.87L364.38 957.14L366.10 956.28L368.69 956.28L369.55 957.14L369.55 958.01L368.69 958.87L367.82 958.01L368.69 957.14M358.34 956.28L361.79 956.28M358.34 968.35L364.38 968.35M373.86 946.80L375.58 948.52L377.31 951.11L379.03 954.56L379.89 958.87L379.89 962.32L379.03 966.63L377.31 970.07L375.58 972.66L373.86 974.38M375.58 948.52L377.31 951.97L378.17 954.56L379.03 958.87L379.03 962.32L378.17 966.63L377.31 969.21L375.58 972.66" fill="none" stroke="#000" stroke-width="2.30" stroke-linecap="butt" stroke-linejoin="round"/>
<path d="M16.04 205.54L33.85 205.54M16.04 204.69L33.85 204.69M16.04 208.08L16.04 202.15M33.85 208.08L33.85 195.36L28.76 195.36L33.85 196.21M31.27 191.97L41.95 191.97M31.27 191.46L41.95 191.46M31.27 193.50L31.27 187.39L31.77 185.87L32.28 185.36L33.30 184.85L34.32 184.85L35.34 185.36L35.84 185.87L36.35 187.39M31.27 187.39L31.77 186.38L32.28 185.87L33.30 185.36L34.32 185.36L35.34 185.87L35.84 186.38L36.35 187.39M36.35 191.46L36.35 187.39L36.86 185.87L37.37 185.36L38.39 184.85L39.91 184.85L40.93 185.36L41.44 185.87L41.95 187.39L41.95 193.50M36.35 187.39L36.86 186.38L37.37 185.87L38.39 185.36L39.91 185.36L40.93 185.87L41.44 186.38L41.95 187.39M31.27 180.78L41.95 180.78M31.27 180.27L41.95 180.27M31.27 174.16L41.95 174.16M31.27 173.66L41.95 173.66M31.27 182.30L31.27 178.74M31.27 175.69L31.27 172.13M36.35 180.27L36.35 174.16M41.95 182.30L41.95 178.74M41.95 175.69L41.95 172.13M12.65 154.15L39.79 169.42M16.04 148.22L33.85 148.22M16.04 147.37L33.85 147.37M16.04 150.76L16.04 144.82M33.85 150.76L33.85 138.04L28.76 138.04L33.85 138.89M31.27 134.65L41.95 134.65M31.27 134.14L41.95 134.14M34.32 131.09L38.39 131.09M31.27 136.17L31.27 128.03L34.32 128.03L31.27 128.54M36.35 134.14L36.35 131.09M41.95 136.17L41.95 128.03L38.90 128.03L41.95 128.54M31.27 118.87L41.95 118.87M31.27 118.37L41.95 118.37M36.35 118.87L35.34 119.89L34.83 120.91L34.83 121.93L35.34 123.45L36.35 124.47L37.88 124.98L38.90 124.98L40.42 124.47L41.44 123.45L41.95 121.93L41.95 120.91L41.44 119.89L40.42 118.87M34.83 121.93L35.34 122.94L36.35 123.96L37.88 124.47L38.90 124.47L40.42 123.96L41.44 122.94L41.95 121.93M31.27 120.40L31.27 118.37M41.95 118.87L41.95 116.84M31.27 108.19L41.95 108.19M31.27 107.68L41.95 107.68M36.35 108.19L35.34 109.21L34.83 110.22L34.83 111.24L35.34 112.77L36.35 113.79L37.88 114.30L38.90 114.30L40.42 113.79L41.44 112.77L41.95 111.24L41.95 110.22L41.44 109.21L40.42 108.19M34.83 111.24L35.34 112.26L36.35 113.28L37.88 113.79L38.90 113.79L40.42 113.28L41.44 112.26L41.95 111.24M31.27 109.72L31.27 107.68M41.95 108.19L41.95 106.15" fill="none" stroke="#000" stroke-width="2.30" stroke-linecap="butt" stroke-linejoin="round"/>
<path d="M20.84 300.65L38.65 300.65M20.84 299.81L38.65 299.81M20.84 303.20L20.84 297.26M38.65 303.20L38.65 290.48L33.56 290.48L38.65 291.33M36.07 288.10L46.75 281.49M36.07 287.60L46.75 280.98M36.07 280.98L46.75 288.10M36.07 289.12L36.07 286.07M36.07 283.02L36.07 279.96M46.75 289.12L46.75 286.07M46.75 283.02L46.75 279.96" fill="none" stroke="#000" stroke-width="2.30" stroke-linecap="butt" stroke-linejoin="round"/>
<path d="M23.18 437.24L34.20 439.78M23.18 437.24L34.20 438.93M24.87 444.87L23.18 443.17L22.33 440.63L22.33 431.30M24.87 444.87L24.02 443.17L23.18 440.63L23.18 431.30M31.62 424.52L32.12 426.04L33.14 427.06L34.16 427.57L36.19 428.08L37.72 428.08L39.76 427.57L40.77 427.06L41.79 426.04L42.30 424.52L42.30 423.50L41.79 421.97L40.77 420.96L39.76 420.45L37.72 419.94L36.19 419.94L34.16 420.45L33.14 420.96L32.12 421.97L31.62 423.50L31.62 424.52M31.62 424.52L32.12 425.53L33.14 426.55L34.16 427.06L36.19 427.57L37.72 427.57L39.76 427.06L40.77 426.55L41.79 425.53L42.30 424.52M42.30 423.50L41.79 422.48L40.77 421.46L39.76 420.96L37.72 420.45L36.19 420.45L34.16 420.96L33.14 421.46L32.12 422.48L31.62 423.50M31.62 415.87L42.30 415.87M31.62 415.36L42.30 415.36M31.62 417.39L31.62 411.29L32.12 409.76L32.63 409.25L33.65 408.74L35.18 408.74L36.19 409.25L36.70 409.76L37.21 411.29L37.21 415.36M31.62 411.29L32.12 410.27L32.63 409.76L33.65 409.25L35.18 409.25L36.19 409.76L36.70 410.27L37.21 411.29M42.30 417.39L42.30 413.83" fill="none" stroke="#000" stroke-width="2.30" stroke-linecap="butt" stroke-linejoin="round"/>
<path d="M20.84 573.40L38.65 573.40M20.84 572.55L38.65 572.55M20.84 575.94L20.84 570.00M38.65 575.94L38.65 563.22L33.56 563.22L38.65 564.07M36.07 559.83L46.75 559.83M36.07 559.32L46.75 559.32M36.07 561.35L36.07 557.79M46.75 561.35L46.75 557.79M36.07 554.23L46.75 554.23M36.07 553.72L46.75 553.72M36.07 555.76L36.07 549.65L36.57 548.13L37.08 547.62L38.10 547.11L39.12 547.11L40.14 547.62L40.64 548.13L41.15 549.65L41.15 553.72M36.07 549.65L36.57 548.63L37.08 548.13L38.10 547.62L39.12 547.62L40.14 548.13L40.64 548.63L41.15 549.65M46.75 555.76L46.75 552.20M41.15 551.18L41.66 550.16L42.17 549.65L45.73 548.13L46.24 547.62L46.24 547.11L45.73 546.60M41.66 550.16L42.68 549.65L46.24 548.63L46.75 548.13L46.75 547.11L45.73 546.60L45.22 546.60" fill="none" stroke="#000" stroke-width="2.30" stroke-linecap="butt" stroke-linejoin="round"/>
<path d="M40.59 713.12L48.22 726.68L55.85 713.12M38.04 702.09L55.85 702.09M38.04 701.24L55.85 701.24M38.04 707.18L43.13 708.03L38.04 708.03L38.04 695.31L43.13 695.31L38.04 696.16M55.85 704.64L55.85 698.70M53.27 685.98L63.95 685.98M53.27 685.47L63.95 685.47M58.35 685.98L57.34 687.00L56.83 688.01L56.83 689.03L57.34 690.56L58.35 691.58L59.88 692.09L60.90 692.09L62.42 691.58L63.44 690.56L63.95 689.03L63.95 688.01L63.44 687.00L62.42 685.98M56.83 689.03L57.34 690.05L58.35 691.07L59.88 691.58L60.90 691.58L62.42 691.07L63.44 690.05L63.95 689.03M53.27 687.51L53.27 685.47M63.95 685.98L63.95 683.94M40.59 679.53L48.22 665.97L55.85 679.53" fill="none" stroke="#000" stroke-width="2.30" stroke-linecap="butt" stroke-linejoin="round"/>
<path d="M26.59 843.76L24.04 842.91L29.13 842.91L26.59 843.76L24.89 845.46L24.04 848.00L24.04 850.55L24.89 853.09L26.59 854.79L28.28 854.79L29.98 853.94L30.83 853.09L31.67 851.39L33.37 846.31L34.22 844.61L35.91 842.91M28.28 854.79L29.98 853.09L30.83 851.39L32.52 846.31L33.37 844.61L34.22 843.76L35.91 842.91L39.31 842.91L41.00 844.61L41.85 847.15L41.85 849.70L41.00 852.24L39.31 853.94L36.76 854.79L41.85 854.79L39.31 853.94M24.04 836.13L41.85 836.13M24.04 835.28L41.85 835.28M29.13 830.19L35.91 830.19M24.04 838.67L24.04 825.11L29.13 825.11L24.04 825.95M32.52 835.28L32.52 830.19M41.85 838.67L41.85 832.74M24.04 819.17L41.85 819.17M24.04 818.32L41.85 818.32M24.04 821.71L24.04 811.54L24.89 808.99L25.74 808.15L27.43 807.30L29.13 807.30L30.83 808.15L31.67 808.99L32.52 811.54L32.52 818.32M24.04 811.54L24.89 809.84L25.74 808.99L27.43 808.15L29.13 808.15L30.83 808.99L31.67 809.84L32.52 811.54M41.85 821.71L41.85 815.78M32.52 814.08L33.37 812.39L34.22 811.54L40.15 808.99L41.00 808.15L41.00 807.30L40.15 806.45M33.37 812.39L35.07 811.54L41.00 809.84L41.85 808.99L41.85 807.30L40.15 806.45L39.31 806.45" fill="none" stroke="#000" stroke-width="2.30" stroke-linecap="butt" stroke-linejoin="round"/>
</svg>
</body></html>
